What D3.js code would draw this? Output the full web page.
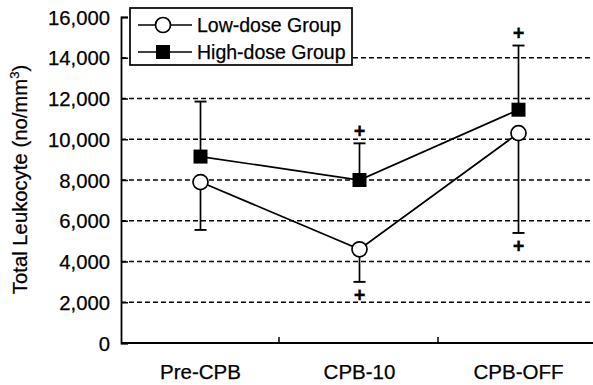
<!DOCTYPE html>
<html>
<head>
<meta charset="utf-8">
<script src="https://cdn.jsdelivr.net/npm/d3@7/dist/d3.min.js"></script>
<style>
  html, body { margin: 0; padding: 0; background: #fff; }
  svg text { font-family: "Liberation Sans", Arial, sans-serif; fill: #000; stroke: #000; stroke-width: 0.25px; }
</style>
</head>
<body>
<svg id="chart" width="593" height="385"></svg>
<script>
// Time points
const categories = ["Pre-CPB", "CPB-10", "CPB-OFF"];
// Low-dose group: mean and one-sided (downward) error
const lowMean = [7900, 4600, 10300];
const lowErr = [2350, 1600, 4900];
const lowSig = [false, true, true];
// High-dose group: mean and one-sided (upward) error
const highMean = [9150, 8000, 11450];
const highErr = [2700, 1800, 3150];
const highSig = [false, true, true];
// Y axis ticks
const yTicks = [0, 2000, 4000, 6000, 8000, 10000, 12000, 14000, 16000];
const gridTicks = [2000, 4000, 6000, 8000, 10000, 12000, 14000];
const seriesNames = ["Low-dose Group", "High-dose Group"];

const svg = d3.select("#chart");
const plotLeft = 121, plotRight = 598, plotTop = 17, plotBottom = 343;

const x = d3.scaleBand().domain(categories).range([plotLeft, plotRight]);
const y = d3.scaleLinear().domain([0, 16000]).range([plotBottom, plotTop]);
const cx = c => x(c) + x.bandwidth() / 2;

// Dashed gridlines
svg.append("g").selectAll("line").data(gridTicks).join("line")
  .attr("x1", plotLeft).attr("x2", 593)
  .attr("y1", d => y(d)).attr("y2", d => y(d))
  .attr("stroke", "#000").attr("stroke-width", 1.5)
  .attr("stroke-dasharray", "5,3");

// Y axis
const yAxis = svg.append("g").attr("transform", `translate(${plotLeft},0)`)
  .call(d3.axisLeft(y).tickValues(yTicks).tickFormat(d3.format(",")).tickSize(-7).tickPadding(11));
yAxis.select(".domain").attr("stroke", "#000").attr("stroke-width", 1.8);
yAxis.selectAll(".tick line").attr("stroke", "#000").attr("stroke-width", 1.5);
yAxis.selectAll(".tick text").attr("font-size", 20.3).attr("font-family", "Liberation Sans, Arial, sans-serif").attr("dy", "0.35em");

// X axis
const xAxis = svg.append("g").attr("transform", `translate(0,${plotBottom})`)
  .call(d3.axisBottom(x).tickSize(0).tickPadding(21));
xAxis.select(".domain").remove();
xAxis.append("line").attr("x1", plotLeft).attr("x2", 593).attr("y1", 0).attr("y2", 0)
  .attr("stroke", "#000").attr("stroke-width", 1.8);
xAxis.selectAll(".tick text").attr("font-size", 20.5).attr("font-family", "Liberation Sans, Arial, sans-serif");
// Inward tick marks at category boundaries
xAxis.append("g").selectAll("line").data(categories.slice(1)).join("line")
  .attr("x1", d => x(d) - 1).attr("x2", d => x(d) - 1)
  .attr("y1", 0).attr("y2", -6)
  .attr("stroke", "#000").attr("stroke-width", 1.5);

// Y axis title
const title = svg.append("text")
  .attr("transform", `translate(27,${(63 + 296) / 2}) rotate(-90)`)
  .attr("text-anchor", "middle").attr("font-size", 20.3);
title.append("tspan").text("Total Leukocyte (no/mm");
title.append("tspan").attr("font-size", 13).attr("dy", -8).text("3");
title.append("tspan").attr("dy", 8).text(")");

const capW = 12;
const lineGen = d3.line().x((d, i) => cx(categories[i])).y(d => y(d));

// Connecting lines
svg.append("path").datum(highMean).attr("d", lineGen)
  .attr("fill", "none").attr("stroke", "#000").attr("stroke-width", 1.7);
svg.append("path").datum(lowMean).attr("d", lineGen)
  .attr("fill", "none").attr("stroke", "#000").attr("stroke-width", 1.7);

// Error bars: high-dose upward, low-dose downward
function errorBars(means, errs, sign, sig) {
  const g = svg.append("g");
  means.forEach((m, i) => {
    const xc = cx(categories[i]);
    const end = m + sign * errs[i];
    g.append("line").attr("x1", xc).attr("x2", xc).attr("y1", y(m)).attr("y2", y(end))
      .attr("stroke", "#000").attr("stroke-width", 1.7);
    g.append("line").attr("x1", xc - capW / 2).attr("x2", xc + capW / 2)
      .attr("y1", y(end)).attr("y2", y(end))
      .attr("stroke", "#000").attr("stroke-width", 1.9);
    if (sig[i]) {
      g.append("text").attr("x", xc).attr("y", y(end) - sign * 13)
        .attr("text-anchor", "middle").attr("dy", "0.36em")
        .attr("font-size", 20).attr("font-weight", "bold").text("+");
    }
  });
}
errorBars(highMean, highErr, 1, highSig);
errorBars(lowMean, lowErr, -1, lowSig);

// Markers
const sq = 14;
svg.append("g").selectAll("rect").data(highMean).join("rect")
  .attr("x", (d, i) => cx(categories[i]) - sq / 2)
  .attr("y", d => y(d) - sq / 2)
  .attr("width", sq).attr("height", sq).attr("fill", "#000");
svg.append("g").selectAll("circle").data(lowMean).join("circle")
  .attr("cx", (d, i) => cx(categories[i]))
  .attr("cy", d => y(d)).attr("r", 7.5)
  .attr("fill", "#fff").attr("stroke", "#000").attr("stroke-width", 1.7);

// Legend
const lg = svg.append("g");
lg.append("rect").attr("x", 130).attr("y", 8).attr("width", 222).attr("height", 57)
  .attr("fill", "#fff").attr("stroke", "#000").attr("stroke-width", 1.7);
const rows = [25, 52];
rows.forEach((ry, i) => {
  lg.append("line").attr("x1", 138).attr("x2", 192).attr("y1", ry).attr("y2", ry)
    .attr("stroke", "#000").attr("stroke-width", 1.7);
  if (i === 0) {
    lg.append("circle").attr("cx", 163).attr("cy", ry).attr("r", 7.5)
      .attr("fill", "#fff").attr("stroke", "#000").attr("stroke-width", 1.7);
  } else {
    lg.append("rect").attr("x", 163 - sq / 2).attr("y", ry - sq / 2)
      .attr("width", sq).attr("height", sq).attr("fill", "#000");
  }
  lg.append("text").attr("x", 197).attr("y", ry + 7).attr("font-size", 19.5)
    .text(seriesNames[i]);
});
</script>
</body>
</html>
